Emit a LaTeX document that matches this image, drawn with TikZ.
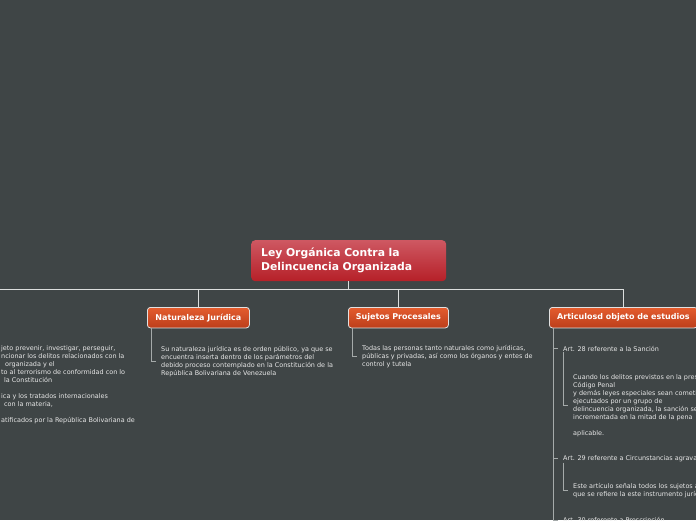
\documentclass[tikz,border=0pt]{standalone}
\usepackage{fontspec}
\setmainfont{DejaVu Sans}
\definecolor{bg}{RGB}{63,69,70}
\definecolor{rootTop}{RGB}{206,88,98}
\definecolor{rootBot}{RGB}{182,32,40}
\definecolor{topTop}{RGB}{228,92,46}
\definecolor{topBot}{RGB}{188,62,26}
\definecolor{boxEdge}{RGB}{225,225,225}
\definecolor{lineMain}{RGB}{220,222,222}
\definecolor{lineSub}{RGB}{165,170,170}
\definecolor{txt}{RGB}{232,232,232}
\tikzset{
  rootbox/.style={draw=none, rounded corners=4pt, top color=rootTop, bottom color=rootBot,
    text=white, font=\fontsize{10.8}{14}\selectfont\bfseries, align=left, anchor=north west,
    inner xsep=10pt, inner ysep=0pt, text width=175pt, minimum height=41pt},
  topicbox/.style={draw=boxEdge, line width=0.8pt, rounded corners=3pt, top color=topTop,
    bottom color=topBot, text=white, font=\fontsize{8}{9}\selectfont\bfseries,
    minimum height=20.5pt, anchor=north west, inner sep=0pt},
  bodytext/.style={text=txt, font=\fontsize{6.45}{8}\selectfont, align=left,
    inner xsep=5pt, inner ysep=1pt, anchor=base west},
  conn/.style={draw=lineMain, line width=1pt},
  sub/.style={draw=lineSub, line width=0.8pt},
}
\begin{document}
\begin{tikzpicture}[x=1pt,y=-1pt]
\path[use as bounding box, fill=bg] (0,0) rectangle (696,520);
\clip (0,0) rectangle (696,520);
% main nodes
\node[rootbox] (root) at (251,240) {Ley Orgánica Contra la\\Delincuencia Organizada};
\coordinate (hubL) at (-20,289);
\coordinate (hub) at (348.5,289);
\node[topicbox, minimum width=102pt] (nat) at (147,307) {Naturaleza Jurídica};
\node[topicbox, minimum width=100pt] (suj) at (348,307) {Sujetos Procesales};
\node[topicbox, minimum width=148pt] (art) at (549,307) {Articulosd objeto de estudios};
% main connectors
\draw[conn] (root.south) -- (root.south |- hub);
\draw[conn] (hubL) -- (art.north |- hub);
\draw[conn] (nat.north |- hub) -- (nat.north);
\draw[conn] (suj.north |- hub) -- (suj.north);
\draw[conn] (art.north |- hub) -- (art.north);
% left branch (cut off); base anchor = last line baseline
\node[bodytext, inner xsep=0pt] (lefttxt) at (0,422) {\hspace*{1pt}jeto prevenir, investigar, perseguir,\\
\hspace*{1pt}ncionar los delitos relacionados con la\\
\hspace*{5pt}organizada y el\\
\hspace*{1pt}to al terrorismo de conformidad con lo\\
\hspace*{4pt}la Constitución\\[8pt]
\hspace*{1pt}ica y los tratados internacionales\\
\hspace*{4pt}con la materia,\\[8pt]
\hspace*{1pt}atificados por la República Bolivariana de};
% Naturaleza
\node[bodytext] (nattxt) at (156,375) {Su naturaleza jurídica es de orden público, ya que se\\
encuentra inserta dentro de los parámetros del\\
debido proceso contemplado en la Constitución de la\\
República Bolivariana de Venezuela};
\draw[sub] ([xshift=4pt]nat.south west) |- (nattxt.west);
% Sujetos
\node[bodytext] (sujtxt) at (357,366) {Todas las personas tanto naturales como jurídicas,\\
públicas y privadas, así como los órganos y entes de\\
control y tutela};
\draw[sub] ([xshift=4pt]suj.south west) |- (sujtxt.west);
% Articulos
\coordinate (spineEnd) at (553,530);
\draw[sub] ([xshift=4pt]art.south west) -- (spineEnd);
\node[bodytext] (a28) at (558,351) {Art. 28 referente a la Sanción};
\draw[sub] (a28.west -| spineEnd) -- (a28.west);
\node[bodytext] (a28txt) at (568,435) {Cuando los delitos previstos en la presente Ley, el\\
Código Penal\\
y demás leyes especiales sean cometidos o\\
ejecutados por un grupo de\\
delincuencia organizada, la sanción será\\
incrementada en la mitad de la pena\\[8pt]
aplicable.};
\draw[sub] ([xshift=5pt]a28.south west) |- (a28txt.west);
\node[bodytext] (a29) at (558,460) {Art. 29 referente a Circunstancias agravantes};
\draw[sub] (a29.west -| spineEnd) -- (a29.west);
\node[bodytext] (a29txt) at (568,496) {Este artículo señala todos los sujetos a los\\
que se refiere la este instrumento jurídico};
\draw[sub] ([xshift=5pt]a29.south west) |- (a29txt.west);
\node[bodytext] (a30) at (558,522) {Art. 30 referente a Prescripción};
\draw[sub] (a30.west -| spineEnd) -- (a30.west);
\end{tikzpicture}
\end{document}
